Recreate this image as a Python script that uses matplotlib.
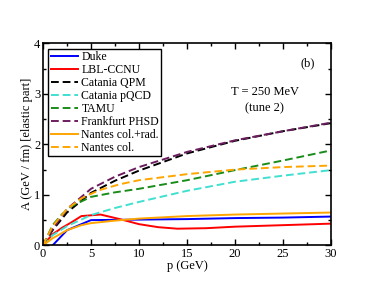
import matplotlib
matplotlib.use("Agg")
import matplotlib.pyplot as plt
from matplotlib.ticker import MultipleLocator

plt.rcParams['font.family'] = ['Liberation Serif', 'DejaVu Serif']
plt.rcParams['mathtext.fontset'] = 'stix'

duke_p = [1, 2.5, 5, 10, 15, 20, 25, 30]
duke_a = [0.0, 0.30, 0.50, 0.51, 0.52, 0.54, 0.55, 0.57]

lbl_p = [0, 1, 2, 3, 4, 6, 8, 10, 12, 14, 17, 20, 25, 30]
lbl_a = [0.0, 0.22, 0.35, 0.46, 0.58, 0.61, 0.52, 0.42, 0.36, 0.33, 0.34, 0.37, 0.40, 0.43]

cqpm_p = [0, 1, 2.5, 5, 7.5, 10, 15, 20, 25, 30]
cqpm_a = [0.0, 0.30, 0.65, 1.04, 1.28, 1.48, 1.82, 2.07, 2.26, 2.42]

cpqcd_p = [0, 1, 2.5, 5, 7.5, 10, 15, 20, 25, 30]
cpqcd_a = [0.0, 0.20, 0.38, 0.60, 0.74, 0.86, 1.08, 1.26, 1.38, 1.49]

tamu_p = [0, 1, 2, 3, 5, 7.5, 10, 15, 20, 25, 30]
tamu_a = [0.0, 0.40, 0.62, 0.78, 0.96, 1.05, 1.12, 1.29, 1.49, 1.68, 1.88]

phsd_p = [0, 1, 2.5, 5, 7.5, 10, 15, 20, 25, 30]
phsd_a = [0.0, 0.32, 0.72, 1.12, 1.36, 1.55, 1.85, 2.08, 2.26, 2.43]

ncr_p = [0, 1, 2.5, 4, 5, 7.5, 10, 15, 20, 25, 30]
ncr_a = [0.0, 0.14, 0.30, 0.40, 0.44, 0.49, 0.53, 0.58, 0.61, 0.63, 0.65]

nc_p = [0, 1, 2.5, 4, 5, 6, 8, 10, 15, 20, 25, 30]
nc_a = [0.0, 0.38, 0.72, 0.93, 1.02, 1.10, 1.21, 1.29, 1.41, 1.50, 1.55, 1.58]

fig = plt.figure(figsize=(3.74, 2.89), dpi=100)
ax = fig.add_axes([0.115, 0.151, 0.770, 0.699])

lw = 1.4
dash = (0, (4, 2))
ax.plot(duke_p, duke_a, color='#0000ff', lw=lw, label='Duke')
ax.plot(lbl_p, lbl_a, color='#ff0000', lw=lw, label='LBL-CCNU')
ax.plot(cqpm_p, cqpm_a, color='black', lw=lw, ls=dash, label='Catania QPM')
ax.plot(cpqcd_p, cpqcd_a, color='#40e0d0', lw=lw, ls=dash, label='Catania pQCD')
ax.plot(tamu_p, tamu_a, color='#1a8c1a', lw=lw, ls=dash, label='TAMU')
ax.plot(phsd_p, phsd_a, color='#6b1d5e', lw=lw, ls=dash, label='Frankfurt PHSD')
ax.plot(ncr_p, ncr_a, color='#ffa500', lw=lw, label='Nantes col.+rad.')
ax.plot(nc_p, nc_a, color='#ffa500', lw=lw, ls=dash, label='Nantes col.')

ax.set_xlim(0, 30)
ax.set_ylim(0, 4)
ax.xaxis.set_major_locator(MultipleLocator(5))
ax.xaxis.set_minor_locator(MultipleLocator(2.5))
ax.yaxis.set_major_locator(MultipleLocator(1))
ax.yaxis.set_minor_locator(MultipleLocator(0.5))
ax.tick_params(which='both', direction='in', top=True, right=True, labelsize=9, pad=2)
ax.tick_params(which='major', length=4, width=1)
ax.tick_params(which='minor', length=2, width=1)
for s in ax.spines.values():
    s.set_linewidth(1.2)

ax.set_xlabel('p (GeV)', fontsize=9, labelpad=0)
ax.set_ylabel('A (GeV / fm) [elastic part]', fontsize=9, labelpad=1)

ax.text(27.6, 3.6, '(b)', fontsize=9, ha='center', va='center')
ax.text(23.1, 3.04, 'T = 250 MeV', fontsize=9, ha='center', va='center')
ax.text(23.1, 2.71, '(tune 2)', fontsize=9, ha='center', va='center')

leg = ax.legend(loc='upper left', fontsize=8.5, frameon=True, fancybox=False,
                edgecolor='black', framealpha=1, borderpad=0.2, labelspacing=0.08,
                handlelength=2.3, handletextpad=0.3, borderaxespad=0.45)
leg.get_frame().set_linewidth(1.0)

fig.savefig('out.png', dpi=100)
